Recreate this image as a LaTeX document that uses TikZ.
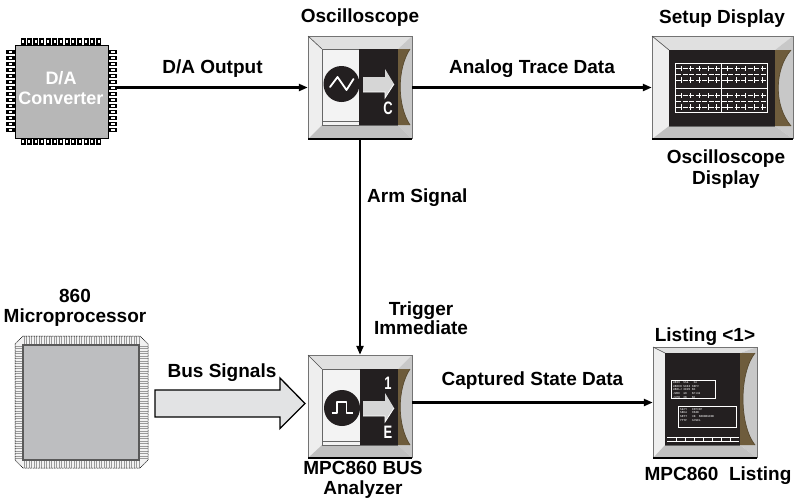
\documentclass[tikz,border=0pt]{standalone}
\usepackage{fontspec}
\setmainfont{Liberation Sans}
\usetikzlibrary{arrows.meta}

\definecolor{bevleft}{HTML}{EEEEEE}
\definecolor{bevtop}{HTML}{E0E0E0}
\definecolor{bevright}{HTML}{C8C8C8}
\definecolor{bevbot}{HTML}{C0C0C0}
\definecolor{bevbrown}{HTML}{6E5C3C}
\definecolor{panel}{HTML}{F3F3F3}
\definecolor{screen}{HTML}{231F20}
\definecolor{chipgray}{HTML}{B7B7B7}
\definecolor{cpugray}{HTML}{BDBEC0}
\definecolor{pinbg}{HTML}{F2F2F2}
\definecolor{pinline}{HTML}{9A9A9A}
\definecolor{arrowfill}{HTML}{D6D6D6}
\definecolor{busfill}{HTML}{E2E3E4}

\tikzset{
  lbl/.style={font=\bfseries\fontsize{19}{20.5}\selectfont, text=black, inner sep=0pt, align=center},
  conn/.style={line width=2.2pt, draw=black, -{Triangle[length=9pt,width=7pt]}},
  box/.style={inner sep=0pt, draw=none},
  tiny/.style={font=\fontsize{3.2}{3.6}\selectfont\ttfamily, text=white, inner sep=0pt, align=left, anchor=north west},
}

% bevelled instrument frame: outer x1 y1 x2 y2, inner x1 y1 x2 y2
\newcommand\bezel[8]{%
  \fill[bevleft]  (#1,#2) -- (#5,#6) -- (#5,#8) -- (#1,#4) -- cycle;
  \fill[bevtop]   (#1,#2) -- (#3,#2) -- (#7,#6) -- (#5,#6) -- cycle;
  \fill[bevright] (#3,#2) -- (#3,#4) -- (#7,#8) -- (#7,#6) -- cycle;
  \fill[bevbot]   (#1,#4) -- (#3,#4) -- (#7,#8) -- (#5,#8) -- cycle;
  \fill[bevbrown] (#7,#6) -- (#3-2,#6) .. controls (#7-1,#6+20) and (#7-1,#8-20) .. (#3-2,#8) -- (#7,#8) -- cycle;
  \draw[bevbrown!80!black, line width=0.7pt] (#3-2,#6) .. controls (#7-1,#6+20) and (#7-1,#8-20) .. (#3-2,#8);
  \draw[black!55, line width=0.5pt] (#1,#4) -- (#1,#2) -- (#3,#2) -- (#3,#4);
  \draw[black!70, line width=0.6pt] (#1,#2) -- (#5,#6);
  \draw[black, line width=2pt] (#1,#4) -- (#3,#4);
  \draw[black!60, line width=0.6pt] (#5,#8) -- (#7,#8);
}

% light grey pointer arrow on a dark panel, tip at (x,y)
\newcommand\panelarrow[2]{%
  \fill[arrowfill] (#1-31,#2-7) -- (#1-9,#2-7) -- (#1-9,#2-15) -- (#1,#2) -- (#1-9,#2+14) -- (#1-9,#2+8) -- (#1-31,#2+8) -- cycle;
  \draw[white, line width=0.8pt] (#1-31,#2+8) -- (#1-9,#2+8) -- (#1-9,#2+14) -- (#1,#2);
}

\begin{document}
\begin{tikzpicture}[x=1pt, y=-1pt]
\useasboundingbox (0,0) rectangle (794,499);

% ---------------- D/A converter chip ----------------
\node[box, minimum width=111pt, minimum height=107pt] (dac) at (61.5,91.5) {};
\foreach \i in {0,...,12} {
  \fill[black] (20.5+6.3*\i,38) rectangle ++(5,7);
  \fill[white] (22+6.3*\i,40) rectangle ++(2,3);
  \fill[black] (20.5+6.3*\i,138) rectangle ++(5,7);
  \fill[white] (22+6.3*\i,140) rectangle ++(2,3);
}
\foreach \i in {0,...,13} {
  \fill[black] (6,49.5+6*\i) rectangle ++(9,4.8);
  \fill[white] (8.5,51+6*\i) rectangle ++(3.5,1.8);
  \fill[black] (108,49.5+6*\i) rectangle ++(9,4.8);
  \fill[white] (111,51+6*\i) rectangle ++(3.5,1.8);
}
\filldraw[fill=chipgray, draw=black, line width=1pt] (15,45) rectangle (108,138);
\node[font=\bfseries\fontsize{18}{20.5}\selectfont, text=white, inner sep=0pt, align=center] (dactext) at (61,88) {D/A\\[-1pt]Converter};

% ---------------- Oscilloscope ----------------
\node[box, minimum width=104pt, minimum height=103pt] (osc) at (360,87.5) {};
\bezel{308}{36}{412}{139}{322}{49}{398}{125}
\fill[panel] (322,49) rectangle (359,125);
\draw[black!60, line width=0.5pt] (322,49) rectangle (359,125);
\draw[black!60, line width=0.5pt] (322,121.5) -- (359,121.5);
\fill[screen] (359,49) rectangle (398,125);
\fill[screen] (341.5,84) circle (18pt);
\draw[white, line width=1.8pt, line join=round, line cap=round] (330,87) -- (337.5,77) -- (346.5,90) -- (353.5,79);
\panelarrow{394}{84}
\node[font=\bfseries\fontsize{18}{18}\selectfont, text=white, inner sep=0pt] (osctag) at (388,108) {\scalebox{0.72}[1]{C}};
\node[lbl] (osclbl) at (360,18) {Oscilloscope};

% ---------------- Setup display ----------------
\node[box, minimum width=141pt, minimum height=103pt] (disp) at (722.5,87.5) {};
\bezel{652}{36}{793}{139}{669}{50}{775}{126}
\fill[screen] (669,50) rectangle (775,126);
\begin{scope}[white]
  \draw[line width=0.7pt] (675,63) rectangle (767,112);
  \draw[line width=0.9pt] (675,88) -- (767,88) (721,63) -- (721,112);
  \foreach \y in {68,74,80,95,101,107}
    \draw[line width=0.6pt, dash pattern=on 5pt off 1.5pt] (676,\y) -- (766,\y);
  \foreach \x in {681,690,699,708,716,727,736,745,754,762} {
    \draw[line width=0.6pt] (\x,66) -- (\x,71) (\x,77) -- (\x,83);
    \draw[line width=0.6pt] (\x,93) -- (\x,98) (\x,104) -- (\x,110);
  }
\end{scope}
\node[lbl] (displbl) at (722,19) {Setup Display};
\node[lbl] (dispcap) at (726,169) {Oscilloscope\\[1pt]Display};

% ---------------- 860 microprocessor ----------------
\node[box, minimum width=133pt, minimum height=132pt] (mpu) at (81.5,402) {};
\begin{scope}
  \clip (23,336) -- (140,336) -- (148,344) -- (148,460) -- (140,468) -- (23,468) -- (15,460) -- (15,344) -- cycle;
  \fill[pinbg] (15,336) rectangle (148,468);
  \foreach \x in {24,26.5,...,139}
    \draw[pinline, line width=0.35pt] (\x,336) -- (\x,345) (\x,460) -- (\x,468);
  \foreach \y in {346,348.5,...,459}
    \draw[pinline, line width=0.35pt] (15,\y) -- (23,\y) (139,\y) -- (148,\y);
\end{scope}
\draw[black, line width=0.5pt, dash pattern=on 1pt off 0.6pt] (23,336) -- (140,336) -- (148,344) -- (148,460) -- (140,468) -- (23,468) -- (15,460) -- (15,344) -- cycle;
\filldraw[fill=cpugray, draw=black!65, line width=1.1pt] (23,345) rectangle (139,460);
\node[lbl] (mpulbl) at (75,308) {860\\[0pt]Microprocessor};

% ---------------- MPC860 bus analyzer ----------------
\node[box, minimum width=104pt, minimum height=103pt] (ana) at (360,406.5) {};
\bezel{308}{355}{412}{458}{322}{369}{398}{445}
\fill[panel] (322,369) rectangle (360,445);
\draw[black!60, line width=0.5pt] (322,369) rectangle (360,445);
\draw[black!60, line width=0.5pt] (322,441.5) -- (360,441.5);
\fill[screen] (360,369) rectangle (398,445);
\fill[screen] (342,408) circle (18pt);
\draw[white, line width=1.8pt, line join=round] (331.5,413) -- (337,413) -- (337,402) -- (346.5,402) -- (346.5,413) -- (352.5,413);
\panelarrow{394}{408}
\node[font=\bfseries\fontsize{18}{18}\selectfont, text=white, inner sep=0pt] (anatop) at (388,383) {\scalebox{0.72}[1]{1}};
\node[font=\bfseries\fontsize{18}{18}\selectfont, text=white, inner sep=0pt] (anabot) at (388,432) {\scalebox{0.72}[1]{E}};
\node[lbl] (analbl) at (363,480) {MPC860 BUS\\[-1pt]Analyzer};

% ---------------- State listing ----------------
\node[box, minimum width=104pt, minimum height=111pt] (lst) at (705,402.5) {};
\bezel{653}{347}{757}{458}{665}{353}{740}{445}
\fill[screen] (665,353) rectangle (740,445);
\draw[white, line width=1pt] (671,380) rectangle (715,398);
\draw[white, line width=1pt] (678,406) rectangle (736,427);
\node[tiny] (lst1) at (673,381.5) {WRSU\ \ 55A\ \ \ 2A\\WRNDH 5XXX 38FC\\WRNLJ 2DVN 5E\\JUHD\ \ 4N\ \ \ 5F104\\JJPR\ \ 2R\ \ \ 5H};
\node[tiny] (lst2) at (680,408) {5ACY\ \ \ DFF0DF\\5BKA\ \ \ 95Z8\\5BYT\ \ \ 0E\ \ 5BEEB6DDE\\YYTF\ \ \ 6C5DL};
\draw[white, line width=0.8pt] (667,437.5) -- (739,437.5) (667,441.5) -- (739,441.5);
\foreach \x in {676,685,694,703,712,721,730}
  \draw[white, line width=0.8pt] (\x,437.5) -- (\x,441.5);
\node[lbl] (lstlbl) at (705,337) {Listing <1>};
\node[lbl] (lstcap) at (718,476) {MPC860\ \ Listing};

% ---------------- Connectors ----------------
\draw[conn] (dac.east |- osc.west) -- (osc.west)
  node[lbl, midway, above=9pt] (daout) {D/A Output};
\draw[conn] (osc.east) -- (disp.west)
  node[lbl, midway, above=9pt] (anatrace) {Analog Trace Data};
\draw[conn] (osc.south) -- (ana.north);
\node[lbl, anchor=west] (arm) at (367,198) {Arm Signal};
\node[lbl] (trig) at (421,318) {Trigger\\[-1pt]Immediate};
\draw[conn] (ana.east |- lst.west) -- (lst.west)
  node[lbl, midway, above=12pt] (capt) {Captured State Data};

% bus signals block arrow
\coordinate (busL) at (155,403.5);
\coordinate (busT) at (305,403.5);
\filldraw[fill=busfill, draw=black, line width=1.3pt, line join=miter]
  (busL) ++(0,-13.5) -- ++(125,0) -- ++(0,-12) -- (busT) -- ++(-25,25) -- ++(0,-11.5) -- ++(-125,0) -- cycle;
\node[lbl] (buslbl) at (222,373) {Bus Signals};

\end{tikzpicture}
\end{document}
